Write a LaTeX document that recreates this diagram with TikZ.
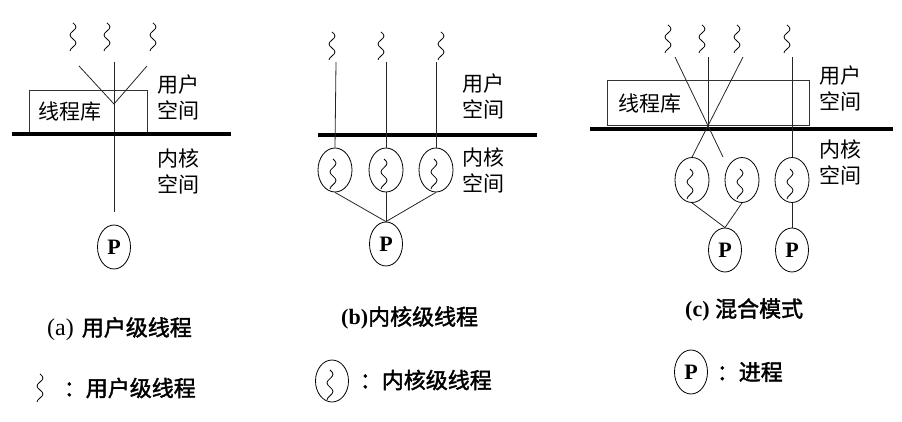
\documentclass[tikz,border=0pt]{standalone}
\usepackage{fontspec}
\setmainfont{Liberation Serif}
\newfontfamily\cjk{Noto Sans CJK SC}
\newfontfamily\cjkb[FakeBold=1.8]{Noto Sans CJK SC}
\usetikzlibrary{shapes.geometric,calc}
\begin{document}
\begin{tikzpicture}[x=1pt,y=-1pt,
  ln/.style={line width=0.8pt, draw=black!85},
  sepline/.style={line width=4pt},
  kth/.style={draw, line width=0.8pt, ellipse, minimum width=34pt, minimum height=44pt, inner sep=0pt},
  proc/.style={draw, line width=0.8pt, ellipse, minimum width=33pt, minimum height=44pt, inner sep=0pt, font=\fontsize{22}{22}\selectfont\bfseries},
  libbox/.style={draw=black!80, line width=0.8pt, inner sep=0pt, anchor=north west},
  spc/.style={font=\cjk\fontsize{21}{26}\selectfont, align=center, inner sep=0pt},
  captext/.style={font=\fontsize{22}{22}\selectfont, inner sep=0pt},
  squig/.pic={\draw[line width=0.8pt] plot[smooth, samples=15, domain=0:1] ({3*sin(\x*630)},{28*\x});},
  isquig/.pic={\draw[line width=0.8pt] plot[smooth, samples=15, domain=0:1] ({3*sin(\x*630)},{30*\x});}
]
\useasboundingbox (0,0) rectangle (902,422);

% ---------------- (a) ----------------
\pic at (73,23) {squig};
\pic at (107,23) {squig};
\pic at (153,23) {squig};
\node[libbox, minimum width=118pt, minimum height=43pt] (libA) at (29,90) {};
\node[spc] (libAt) at (70,112) {线程库};
\coordinate (a1) at (79,66);
\coordinate (a2) at (114,62);
\coordinate (a3) at (147,66);
\coordinate (apex) at (114,104);
\coordinate (aend) at (114,212);
\draw[ln] (a1) -- (apex) -- (a3);
\draw[ln] (a2) -- (aend);
\coordinate (sa1) at (12,134);
\coordinate (sa2) at (231,134);
\draw[sepline] (sa1) -- (sa2);
\node[spc] (uA) at (178,97) {用户\\空间};
\node[spc] (kA) at (178,171) {内核\\空间};
\node[proc] (pA) at (114,247) {P};

% ---------------- (b) ----------------
\pic at (332,32) {squig};
\pic at (381,32) {squig};
\pic at (441,32) {squig};
\coordinate (b1) at (336,62);
\coordinate (b2) at (386,62);
\coordinate (b3) at (436,62);
\coordinate (sb1) at (318,135);
\coordinate (sb2) at (537,135);
\draw[sepline] (sb1) -- (sb2);
\node[kth] (kb1) at (335,170) {};
\node[kth] (kb2) at (386,170) {};
\node[kth] (kb3) at (436,170) {};
\pic at ($(kb1.center)+(-2,-11)$) {isquig};
\pic at ($(kb2.center)+(-2,-11)$) {isquig};
\pic at ($(kb3.center)+(-2,-11)$) {isquig};
\draw[ln] (b1) -- (kb1.north);
\draw[ln] (b2) -- (kb2.north);
\draw[ln] (b3) -- (kb3.north);
\node[proc] (pB) at (386,244) {P};
\draw[ln] (kb1.south) -- (pB.north);
\draw[ln] (kb2.south) -- (pB.north);
\draw[ln] (kb3.south) -- (pB.north);
\node[spc] (uB) at (483,96) {用户\\空间};
\node[spc] (kB) at (483,170) {内核\\空间};

% ---------------- (c) ----------------
\pic at (668,25) {squig};
\pic at (702,25) {squig};
\pic at (737,25) {squig};
\pic at (787,25) {squig};
\node[libbox, minimum width=202pt, minimum height=45pt] (libC) at (607,80) {};
\node[spc] (libCt) at (650,104) {线程库};
\coordinate (sc1) at (590,129);
\coordinate (sc2) at (893,129);
\draw[sepline] (sc1) -- (sc2);
\node[kth, minimum height=45pt] (kc1) at (692,180) {};
\node[kth, minimum height=45pt] (kc2) at (742,180) {};
\node[kth, minimum height=45pt] (kc3) at (792,180) {};
\pic at ($(kc1.center)+(-2,-11)$) {isquig};
\pic at ($(kc2.center)+(-2,-11)$) {isquig};
\pic at ($(kc3.center)+(-2,-11)$) {isquig};
\coordinate (c1) at (675,57);
\coordinate (c2) at (708,57);
\coordinate (c3) at (743,57);
\coordinate (c4) at (792,57);
\coordinate (X) at (708,128);
\coordinate (c1e) at (723,157);
\draw[ln] (c1) -- (c1e);
\draw[ln] (c2) -- (X);
\draw[ln] (c3) -- (kc1.north);
\draw[ln] (c4) -- (kc3.north);
\node[proc] (pC1) at (725,250) {P};
\node[proc] (pC2) at (792,250) {P};
\draw[ln] (kc1.south) -- (pC1.north);
\draw[ln] (kc2.south) -- (pC1.north);
\draw[ln] (kc3.south) -- (pC2.north);
\node[spc] (uC) at (840,88) {用户\\空间};
\node[spc] (kC) at (840,162) {内核\\空间};

% ---------------- captions ----------------
\node[captext, anchor=west] (capA) at (47,329) {{\fontsize{24}{24}\selectfont (a)}\hspace{8pt}{\cjkb 用户级线程}};
\node[captext, anchor=west] (capB) at (341,318) {{\bfseries (b)}{\cjkb 内核级线程}};
\node[captext, anchor=west] (capC) at (685,310) {{\bfseries (c)} {\cjkb 混合模式}};

% ---------------- legend ----------------
\pic at (40,374) {squig};
\node[captext, anchor=east] (legA) at (196,388) {\cjkb ：用户级线程};
\node[kth, minimum width=33pt, minimum height=42pt] (lk) at (332,381) {};
\pic at ($(lk.center)+(-2,-11)$) {isquig};
\node[captext, anchor=east] (legB) at (492,380) {\cjkb ：内核级线程};
\node[proc] (lp) at (691,372) {P};
\node[captext, anchor=east] (legC) at (783,372) {\cjkb ：进程};
\end{tikzpicture}
\end{document}
